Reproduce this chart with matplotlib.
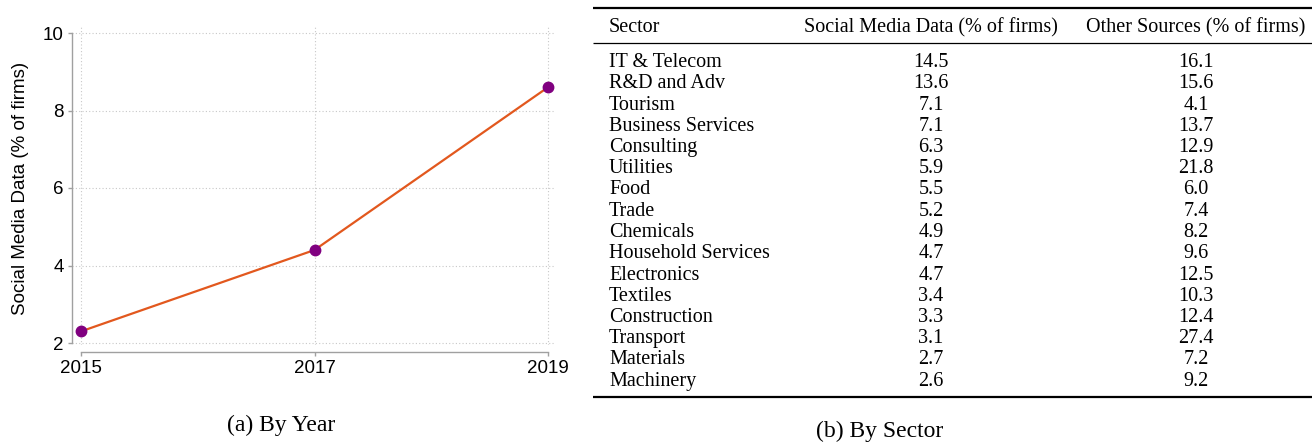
import matplotlib
matplotlib.use("Agg")
import matplotlib.pyplot as plt

# Panel (a): share of firms using social media data, by year
years = [2015, 2017, 2019]
share_by_year = [2.3, 4.4, 8.6]
y_ticks = [2, 4, 6, 8, 10]

# Panel (b): share of firms by sector
sectors = ["IT & Telecom", "R&D and Adv", "Tourism", "Business Services",
           "Consulting", "Utilities", "Food", "Trade", "Chemicals",
           "Household Services", "Electronics", "Textiles", "Construction",
           "Transport", "Materials", "Machinery"]
social_media = [14.5, 13.6, 7.1, 7.1, 6.3, 5.9, 5.5, 5.2, 4.9, 4.7, 4.7,
                3.4, 3.3, 3.1, 2.7, 2.6]
other_sources = [16.1, 15.6, 4.1, 13.7, 12.9, 21.8, 6.0, 7.4, 8.2, 9.6,
                 12.5, 10.3, 12.4, 27.4, 7.2, 9.2]
headers = ["Sector", "Social Media Data (% of firms)", "Other Sources (% of firms)"]

W, H = 1312, 442
fig = plt.figure(figsize=(W / 100, H / 100), dpi=100)

sans = ["Liberation Sans", "DejaVu Sans"]
serif = ["Liberation Serif", "DejaVu Serif"]

# ---- left panel -------------------------------------------------------
x0, x1, ytop, ybot = 72, 555, 25, 345
ax = fig.add_axes([x0 / W, (H - ybot) / H, (x1 - x0) / W, (ybot - ytop) / H])
ax.set_xlim(2015 - 9 / 116.75, 2019 + 7 / 116.75)
ax.set_ylim(2 - 2 / 38.75, 10 + 8 / 38.75)

ax.plot(years, share_by_year, color="#E2581E", lw=1.6, zorder=3)
ax.plot(years, share_by_year, "o", color="#800080", ms=7.5, zorder=4)

ax.set_xticks(years)
ax.set_yticks(y_ticks)
ax.grid(True, color="#c8c8c8", lw=0.8, linestyle=(0, (1, 2)))
ax.set_axisbelow(True)

for s in ("top", "right"):
    ax.spines[s].set_visible(False)
ax.spines["left"].set_bounds(2, 10)
ax.spines["bottom"].set_bounds(2015, 2019)
ax.spines["bottom"].set_position(("outward", 5))
for s in ("left", "bottom"):
    ax.spines[s].set_color("#a0a0a0")
    ax.spines[s].set_linewidth(1.0)
ax.tick_params(axis="both", direction="out", length=3, width=1,
               color="#a0a0a0", labelsize=13.5, pad=3)
for lab in ax.get_xticklabels() + ax.get_yticklabels():
    lab.set_family(sans)

ax.set_ylabel("Social Media Data (% of firms)", fontsize=13.5, family=sans)
ax.yaxis.set_label_coords(-0.088, 0.49)

fig.text(281 / W, 1 - 425 / H, "(a) By Year", ha="center", va="center",
         fontsize=17, family=serif)

# ---- right panel: table ------------------------------------------------
tab = fig.add_axes([0, 0, 1, 1])
tab.set_xlim(0, W)
tab.set_ylim(H, 0)
tab.axis("off")

tab.plot([593, 1312], [8, 8], color="black", lw=1.6, solid_capstyle="butt")
tab.plot([593, 1312], [43, 43], color="black", lw=0.9, solid_capstyle="butt")
tab.plot([593, 1312], [397, 397], color="black", lw=1.6, solid_capstyle="butt")

col_x = [609, 931, 1196]
fs = 14.5
head_y = 28
for x, text, ha in zip(col_x, headers, ["left", "center", "center"]):
    tab.text(x, head_y, text, ha=ha, va="center", fontsize=fs, family=serif)

row0, step = 62.5, 21.25
for i, (name, sm, ot) in enumerate(zip(sectors, social_media, other_sources)):
    y = row0 + i * step
    tab.text(col_x[0], y, name, ha="left", va="center", fontsize=fs, family=serif)
    tab.text(col_x[1], y, f"{sm:.1f}", ha="center", va="center", fontsize=fs, family=serif)
    tab.text(col_x[2], y, f"{ot:.1f}", ha="center", va="center", fontsize=fs, family=serif)

fig.text(880 / W, 1 - 431 / H, "(b) By Sector", ha="center", va="center",
         fontsize=17, family=serif)

fig.savefig("out.png", dpi=100)
